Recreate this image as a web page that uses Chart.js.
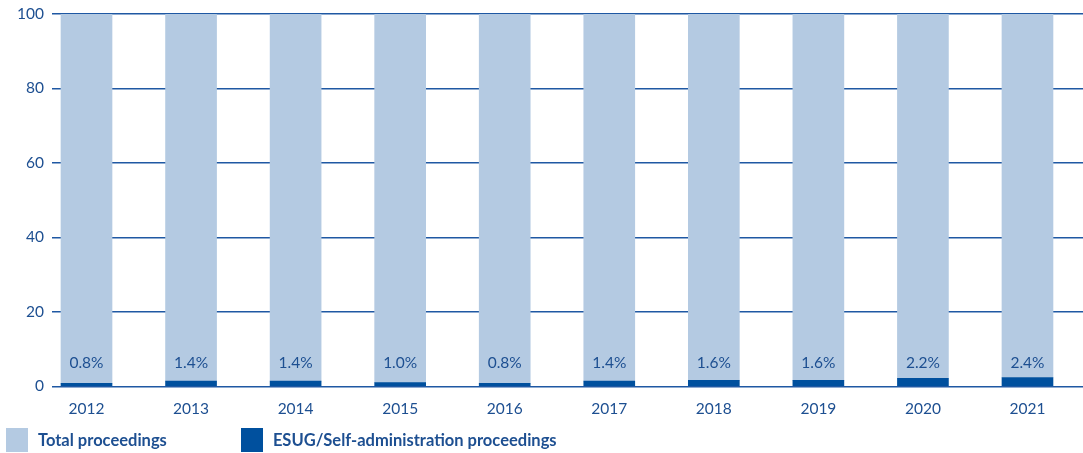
<!DOCTYPE html>
<html>
<head>
<meta charset="utf-8">
<script src="https://cdn.jsdelivr.net/npm/chart.js@4/dist/chart.umd.min.js"></script>
<style>
  html, body { margin: 0; padding: 0; background: #fff; }
  #wrap { position: relative; width: 1083px; height: 453px; }
  #legend { position: absolute; left: 6px; top: 428px; display: flex; font-family: Lato, sans-serif;
            font-weight: bold; font-size: 16.5px; color: #1d4f91; }
  .item { display: flex; align-items: center; margin-right: 74px; }
  .box { width: 22px; height: 24px; margin-right: 10px; }
</style>
</head>
<body>
<div id="wrap">
  <canvas id="chart" width="1083" height="453"></canvas>
  <div id="legend"></div>
</div>
<script>
const years = ['2012', '2013', '2014', '2015', '2016', '2017', '2018', '2019', '2020', '2021'];
const total = [100, 100, 100, 100, 100, 100, 100, 100, 100, 100];
const esug = [0.8, 1.4, 1.4, 1.0, 0.8, 1.4, 1.6, 1.6, 2.2, 2.4];
const yTicks = [0, 20, 40, 60, 80, 100];

const lightBlue = '#b4cae2';
const darkBlue = '#00509e';
const textBlue = '#1d4f91';

// percentage labels, all on the same height above the bars
const pctLabels = {
    id: 'pctLabels',
    afterDatasetsDraw(chart) {
        const ctx = chart.ctx;
        const meta = chart.getDatasetMeta(0);
        const y = chart.scales.y.getPixelForValue(6.3);
        ctx.save();
        ctx.font = '15.5px Lato';
        ctx.fillStyle = textBlue;
        ctx.textAlign = 'center';
        ctx.textBaseline = 'middle';
        meta.data.forEach((bar, i) => {
            ctx.fillText(esug[i].toFixed(1) + '%', bar.x, y);
        });
        ctx.restore();
    }
};

const config = {
    type: 'bar',
    data: {
        datasets: [
            {
                label: 'ESUG/Self-administration proceedings',
                data: esug.map((v, i) => ({ x: i, y: v })),
                backgroundColor: darkBlue,
                barThickness: 51,
            },
            {
                label: 'Total proceedings',
                data: total.map((v, i) => ({ x: i, y: v - esug[i] })),
                backgroundColor: lightBlue,
                barThickness: 51,
            }
        ]
    },
    options: {
        responsive: false,
        animation: false,
        layout: { padding: { top: 14, right: 0, bottom: 30, left: 0 } },
        scales: {
            x: {
                type: 'linear',
                stacked: true,
                offset: false,
                min: -0.33,
                max: 9.531,
                grid: { display: false },
                border: { display: false },
                ticks: {
                    stepSize: 1,
                    includeBounds: false,
                    autoSkip: false,
                    maxRotation: 0,
                    padding: 5,
                    color: textBlue,
                    font: { family: 'Lato', size: 15.5 },
                    callback: function(value) {
                        return Number.isInteger(value) ? years[value] : '';
                    }
                }
            },
            y: {
                stacked: true,
                min: 0,
                max: 100,
                afterFit: function(scale) {
                    scale.width = 52;
                    scale.paddingTop = 0;
                    scale.paddingBottom = 0;
                },
                afterBuildTicks: function(scale) { scale.ticks = yTicks.map(v => ({ value: v })); },
                grid: { color: '#1f58a3', lineWidth: 1.4, drawTicks: false },
                border: { display: false },
                ticks: {
                    padding: 8,
                    color: textBlue,
                    font: { family: 'Lato', size: 15.5 }
                }
            }
        },
        plugins: {
            legend: { display: false },
            tooltip: { enabled: false }
        }
    },
    plugins: [pctLabels]
};

const myChart = new Chart(document.getElementById('chart'), config);

// legend below the plot
const legend = document.getElementById('legend');
[['Total proceedings', lightBlue], ['ESUG/Self-administration proceedings', darkBlue]].forEach(([text, color]) => {
    const item = document.createElement('div');
    item.className = 'item';
    const box = document.createElement('div');
    box.className = 'box';
    box.style.background = color;
    const span = document.createElement('span');
    span.textContent = text;
    item.appendChild(box);
    item.appendChild(span);
    legend.appendChild(item);
});
</script>
</body>
</html>
